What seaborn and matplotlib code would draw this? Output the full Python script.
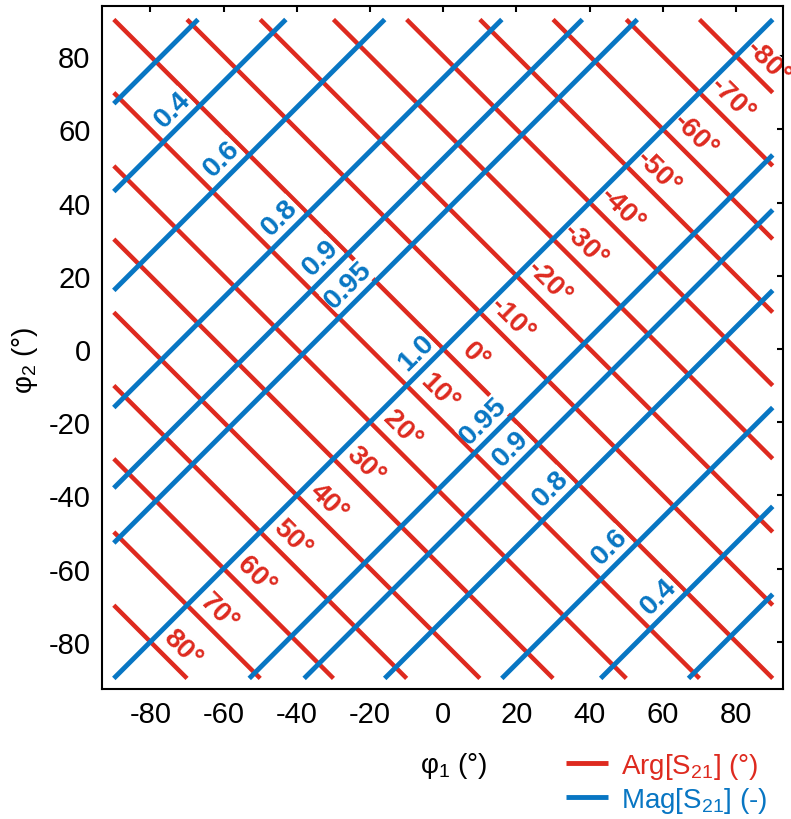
import matplotlib
matplotlib.use('Agg')
import matplotlib.pyplot as plt
import seaborn as sns
import pandas as pd

# Arg[S21] contours: straight lines of constant phi1 + phi2
arg_levels = [80, 70, 60, 50, 40, 30, 20, 10, 0, -10, -20, -30, -40, -50, -60, -70, -80]
arg_sums = [-160, -140, -120, -100, -80, -60, -40, -20, 0, 20, 40, 60, 80, 100, 120, 140, 160]

# Mag[S21] contours: straight lines of constant phi2 - phi1
mag_levels = [0.2, 0.4, 0.6, 0.8, 0.9, 0.95, 1.0, 0.95, 0.9, 0.8, 0.6, 0.4, 0.2]
mag_diffs = [157, 133, 106, 74, 52, 37, 0, -37, -52, -74, -106, -133, -157]
mag_labelled = [False, True, True, True, True, True, True, True, True, True, True, True, False]

ticks = [-80, -60, -40, -20, 0, 20, 40, 60, 80]
phi_min, phi_max = -90, 90

RED = '#DE2A1F'
BLUE = '#0876C3'
ARG_NAME = 'Arg[S$_{\\mathregular{21}}$] (°)'
MAG_NAME = 'Mag[S$_{\\mathregular{21}}$] (-)'

rows = []
for i, s in enumerate(arg_sums):
    x0, x1 = max(phi_min, s - phi_max), min(phi_max, s - phi_min)
    rows.append((ARG_NAME, 'a%d' % i, x0, s - x0))
    rows.append((ARG_NAME, 'a%d' % i, x1, s - x1))
for i, d in enumerate(mag_diffs):
    x0, x1 = max(phi_min, phi_min - d), min(phi_max, phi_max - d)
    rows.append((MAG_NAME, 'm%d' % i, x0, x0 + d))
    rows.append((MAG_NAME, 'm%d' % i, x1, x1 + d))
df = pd.DataFrame(rows, columns=['kind', 'line', 'phi1', 'phi2'])

sns.set_style('white')
plt.rcParams['font.family'] = ['Liberation Sans', 'DejaVu Sans']
plt.rcParams['mathtext.fontset'] = 'custom'
plt.rcParams['mathtext.rm'] = 'Liberation Sans'
plt.rcParams['mathtext.it'] = 'Liberation Sans:italic'
plt.rcParams['mathtext.bf'] = 'Liberation Sans:bold'
plt.rcParams['axes.unicode_minus'] = False
plt.rcParams['text.color'] = 'black'
plt.rcParams['axes.labelcolor'] = 'black'
plt.rcParams['xtick.color'] = 'black'
plt.rcParams['ytick.color'] = 'black'

fig = plt.figure(figsize=(7.91, 8.20), dpi=100)
ax = fig.add_axes([0.1286, 0.1585, 0.8617, 0.8326])

sns.lineplot(data=df, x='phi1', y='phi2', hue='kind', units='line',
             estimator=None, sort=False, palette=[RED, BLUE], ax=ax)
for ln in ax.lines:
    ln.set_solid_capstyle('butt')
    if ln.get_color() == RED:
        ln.set_linewidth(3.2)
        ln.set_zorder(2)
    else:
        ln.set_linewidth(3.5)
        ln.set_zorder(3)

# contour labels sit just beside their line, white box behind the text
for lvl, s in zip(arg_levels, arg_sums):
    sm, df_ = s + 7, 10.5
    ax.text((sm + df_) / 2, (sm - df_) / 2, '%d°' % lvl, color=RED, fontsize=20,
            fontweight='bold', rotation=-45, rotation_mode='anchor',
            ha='center', va='center', clip_on=False, zorder=2.5,
            bbox=dict(facecolor='white', edgecolor='none', pad=0.2))
for lvl, d, show in zip(mag_levels, mag_diffs, mag_labelled):
    if not show:
        continue
    dm, sm = d + 6.5, -8.5
    ax.text((sm - dm) / 2, (sm + dm) / 2, str(lvl), color=BLUE, fontsize=20.5,
            fontweight='bold', rotation=45, rotation_mode='anchor',
            ha='center', va='center', clip_on=False, zorder=4,
            bbox=dict(facecolor='white', edgecolor='none', pad=0.2))

ax.set_xlim(-93.3, 92.9)
ax.set_ylim(-92.9, 93.6)
ax.set_xticks(ticks)
ax.set_yticks(ticks)
ax.tick_params(direction='in', length=4, width=1.5, labelsize=21,
               top=True, right=True, pad=8, colors='black')
for sp in ax.spines.values():
    sp.set_linewidth(1.5)
    sp.set_color('black')
    sp.set_zorder(5)

ax.set_xlabel('φ$_{\\mathregular{1}}$ (°)', fontsize=20)
ax.set_ylabel('φ$_{\\mathregular{2}}$ (°)', fontsize=20)
ax.xaxis.set_label_coords(0.517, -0.09)
ax.yaxis.set_label_coords(-0.09, 0.483)

sns.move_legend(ax, 'upper left', bbox_to_anchor=(0.716, 0.083),
                bbox_transform=fig.transFigure, frameon=False, title=None,
                fontsize=20, labelcolor='linecolor', handlelength=1.5,
                handletextpad=0.45, labelspacing=0.15, borderpad=0,
                borderaxespad=0)
for h in ax.get_legend().get_lines():
    h.set_linewidth(3.5)
    h.set_solid_capstyle('butt')

fig.savefig('out.png', dpi=100)
